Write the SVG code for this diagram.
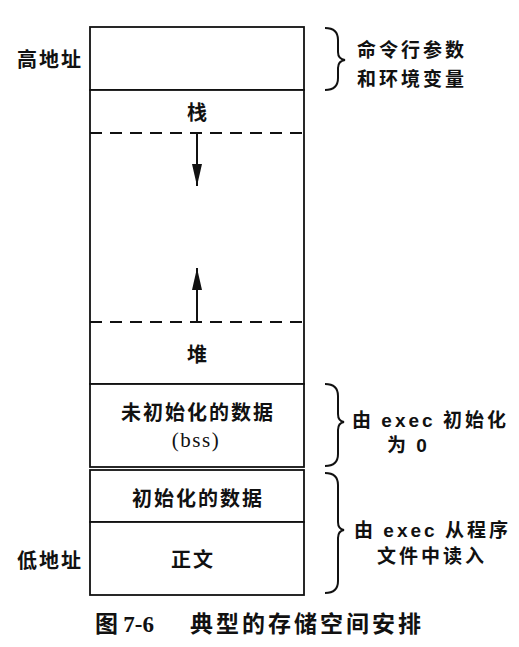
<svg xmlns="http://www.w3.org/2000/svg" width="519" height="647" viewBox="0 0 519 647">
<style>
.box{fill:#fff;stroke:#111;stroke-width:1.8}
.dash{stroke:#111;stroke-width:1.8;stroke-dasharray:12 8;fill:none}
.lbl{font-family:"Noto Sans CJK SC","Liberation Sans",sans-serif;font-weight:700;font-size:20px;letter-spacing:2px;fill:#111}
.ann{font-family:"Noto Sans CJK SC","Liberation Sans",sans-serif;font-weight:700;font-size:19px;letter-spacing:3px;fill:#111}
.lat{font-family:"Liberation Sans",sans-serif;font-weight:700}
.ser{font-family:"Liberation Serif",serif;font-weight:400;font-size:21px;letter-spacing:1.5px;fill:#111}
.brace{fill:none;stroke:#111;stroke-width:2}
.conn{stroke:#111;stroke-width:2;fill:none}
.cap{font-family:"Noto Sans CJK SC",sans-serif;font-weight:700;font-size:23px;fill:#111}
</style>
<defs>
<marker id="ah" viewBox="0 0 22 10" refX="22" refY="5" markerWidth="22" markerHeight="10" markerUnits="userSpaceOnUse" orient="auto">
<path d="M0,0 L22,5 L0,10 z" fill="#111"/>
</marker>
</defs>
<rect width="519" height="647" fill="#fff"/>

<g id="node-args">
<rect class="box" x="90" y="27" width="214" height="63"/>
</g>
<g id="node-stack-heap">
<rect class="box" x="90" y="90" width="214" height="294"/>
<line class="dash" x1="90" y1="133" x2="304" y2="133"/>
<line class="dash" x1="90" y1="322" x2="304" y2="322"/>
<text class="lbl" x="198" y="119.5" text-anchor="middle">栈</text>
<text class="lbl" x="198" y="361.5" text-anchor="middle">堆</text>
</g>
<g id="node-bss">
<rect class="box" x="90" y="384" width="214" height="83"/>
<text class="lbl" x="198" y="419.5" text-anchor="middle">未初始化的数据</text>
<text class="ser" x="196" y="446.5" text-anchor="middle">(bss)</text>
</g>
<g id="node-data">
<rect class="box" x="90" y="470" width="214" height="52"/>
<text class="lbl" x="198" y="505.5" text-anchor="middle">初始化的数据</text>
</g>
<g id="node-text">
<rect class="box" x="90" y="522" width="214" height="73"/>
<text class="lbl" x="193" y="566.5" text-anchor="middle">正文</text>
</g>

<g id="address-labels">
<text class="lbl" x="17" y="66.5">高地址</text>
<text class="lbl" x="17" y="568">低地址</text>
</g>

<g id="connectors">
<line class="conn" x1="197" y1="133" x2="197" y2="186" marker-end="url(#ah)"/>
<line class="conn" x1="197" y1="322" x2="197" y2="268" marker-end="url(#ah)"/>
</g>

<g id="brace-args">
<path class="brace" d="M325,28 Q338,28 338,40 L338,52 Q338,59 345,60 Q338,61 338,68 L338,78 Q338,90 325,90"/>
<text class="ann" x="357" y="56.5">命令行参数</text>
<text class="ann" x="357" y="85.5">和环境变量</text>
</g>
<g id="brace-bss">
<path class="brace" d="M325,384 Q338,384 338,396 L338,414 Q338,421 344,422 Q338,423 338,430 L338,454 Q338,466 325,466"/>
<text class="ann" x="352" y="427">由 <tspan class="lat">exec</tspan> 初始化</text>
<text class="ann" x="387" y="452">为 <tspan class="lat" font-weight="400">0</tspan></text>
</g>
<g id="brace-file">
<path class="brace" d="M325,473 Q338,473 338,485 L338,522 Q338,529 344,530 Q338,531 338,538 L338,581 Q338,593 325,593"/>
<text class="ann" x="354" y="537">由 <tspan class="lat">exec</tspan> 从程序</text>
<text class="ann" x="377" y="563">文件中读入</text>
</g>

<g id="caption">
<text class="cap" x="95" y="632">图 <tspan font-family="Liberation Serif" font-weight="700">7-6</tspan></text>
<text class="cap" x="190" y="632" letter-spacing="3">典型的存储空间安排</text>
</g>
</svg>
